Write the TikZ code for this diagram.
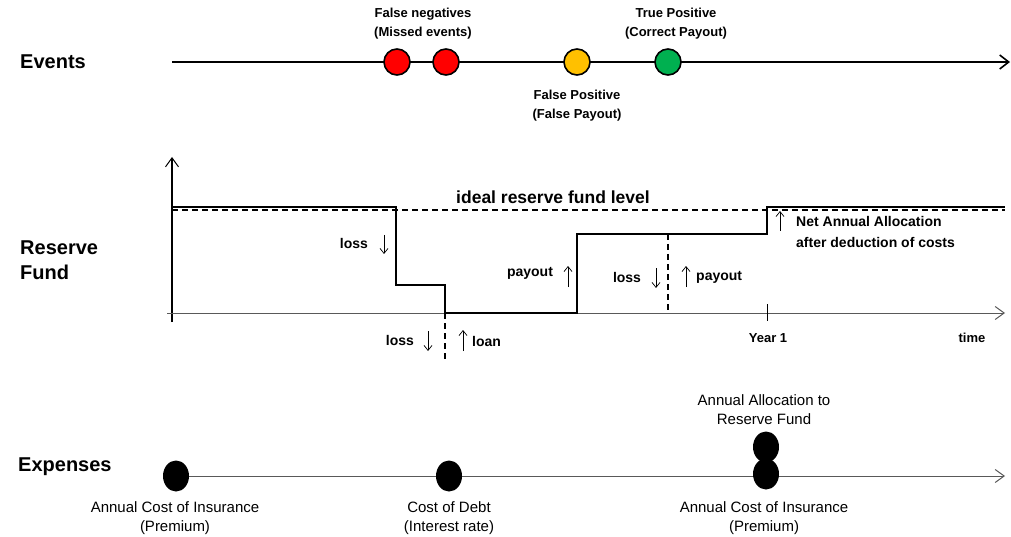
\documentclass[tikz,border=0pt]{standalone}
\usepackage{fontspec}
\setmainfont{Liberation Sans}
\usetikzlibrary{arrows.meta,shapes.geometric}
\begin{document}
\begin{tikzpicture}[x=1pt,y=-1pt,
  big/.style={font=\fontsize{20}{25}\selectfont\bfseries, anchor=west, inner sep=0, align=left},
  evl/.style={font=\fontsize{13}{19}\selectfont\bfseries, align=center, inner sep=0},
  rfl/.style={font=\fontsize{14}{21}\selectfont\bfseries, inner sep=0},
  exl/.style={font=\fontsize{15}{19}\selectfont, align=center, inner sep=0},
  evdot/.style={circle, draw=black, line width=1.6pt, minimum size=26pt, inner sep=0},
  exdot/.style={ellipse, fill=black, minimum width=26pt, minimum height=31pt, inner sep=0},
  mainline/.style={line width=1.6pt, black},
  grayaxis/.style={line width=1pt, gray!70!black},
  tipbig/.style={-{Straight Barb[length=9pt,width=14pt,line width=1.6pt]}},
  tipthin/.style={-{Straight Barb[length=9pt,width=13pt,line width=1pt]}},
  smallarr/.style={line width=0.7pt, -{Straight Barb[length=5pt,width=8pt,line width=0.7pt]}},
  stepline/.style={line width=2pt, black},
  dashline/.style={line width=2pt, black, dash pattern=on 6pt off 4pt}
]
\useasboundingbox (0,0) rectangle (1011,537);

% ---------- Events ----------
\node[big] (events) at (20,62) {Events};
\coordinate (e0) at (172,62);
\coordinate (e1) at (1010,62);
\draw[mainline, tipbig] (e0) -- (e1);
\node[evdot, fill={rgb,255:red,255;green,0;blue,0}] (fn1) at (397,62) {};
\node[evdot, fill={rgb,255:red,255;green,0;blue,0}] (fn2) at (446,62) {};
\node[evdot, fill={rgb,255:red,255;green,192;blue,0}] (fp) at (577,62) {};
\node[evdot, fill={rgb,255:red,0;green,176;blue,80}] (tp) at (668,62) {};
\node[evl] (fnl) at (423,24) {False negatives\\(Missed events)};
\node[evl] (tpl) at (676,24) {True Positive\\(Correct Payout)};
\node[evl] (fpl) at (577,106) {False Positive\\(False Payout)};

% ---------- Reserve fund ----------
\node[big] (reserve) at (20,260) {Reserve\\Fund};
\coordinate (ya0) at (172,322);
\coordinate (ya1) at (172,157);
\draw[line width=1.2pt, black, tipthin] (ya0) -- (ya1);
\coordinate (xa0) at (167,313);
\coordinate (xa1) at (1005,313);
\draw[grayaxis, tipthin] (xa0) -- (xa1);

\coordinate (i0) at (172,210);
\coordinate (i1) at (1005,210);
\draw[dashline] (i0) -- (i1);
\node[font=\fontsize{17.5}{21}\selectfont\bfseries, inner sep=0] (ideal) at (553,197) {ideal reserve fund level};

\coordinate (s0) at (172,207);
\coordinate (s1) at (396,207);
\coordinate (s2) at (396,285);
\coordinate (s3) at (445,285);
\coordinate (s4) at (445,313);
\coordinate (s5) at (577,313);
\coordinate (s6) at (577,234);
\coordinate (s7) at (767,234);
\coordinate (s8) at (767,207);
\coordinate (s9) at (1005,207);
\draw[stepline] (s0) -- (s1) -- (s2) -- (s3) -- (s4) -- (s5) -- (s6) -- (s7) -- (s8) -- (s9);

\coordinate (d1a) at (445,313);
\coordinate (d1b) at (445,361);
\draw[dashline] (d1a) -- (d1b);
\coordinate (d2a) at (668,234);
\coordinate (d2b) at (668,312);
\draw[dashline] (d2a) -- (d2b);

\coordinate (tk0) at (767,304);
\coordinate (tk1) at (767,321);
\draw[line width=1pt] (tk0) -- (tk1);
\node[rfl, font=\fontsize{13}{16}\selectfont\bfseries] (year) at (768,338) {Year 1};
\node[rfl, font=\fontsize{13}{16}\selectfont\bfseries] (time) at (972,338) {time};

% loss 1
\node[rfl] (loss1) at (354,243) {loss};
\coordinate (a1s) at (384,235); \coordinate (a1e) at (384,254);
\draw[smallarr] (a1s) -- (a1e);
% payout 1
\node[rfl] (pay1) at (530,273) {payout};
\coordinate (a2s) at (568,287); \coordinate (a2e) at (568,266);
\draw[smallarr] (a2s) -- (a2e);
% loss 2 / payout 2
\node[rfl] (loss2) at (627,277) {loss};
\coordinate (a3s) at (656,268); \coordinate (a3e) at (656,288);
\draw[smallarr] (a3s) -- (a3e);
\coordinate (a4s) at (686,287); \coordinate (a4e) at (686,266);
\draw[smallarr] (a4s) -- (a4e);
\node[rfl, anchor=west] (pay2) at (696,277) {payout};
% loss 3 / loan
\node[rfl] (loss3) at (400,340) {loss};
\coordinate (a5s) at (428,331); \coordinate (a5e) at (428,351);
\draw[smallarr] (a5s) -- (a5e);
\coordinate (a6s) at (463,351); \coordinate (a6e) at (463,330);
\draw[smallarr] (a6s) -- (a6e);
\node[rfl, anchor=west] (loan) at (472,341) {loan};
% net annual allocation
\coordinate (a7s) at (780,231); \coordinate (a7e) at (780,211);
\draw[smallarr] (a7s) -- (a7e);
\node[rfl, anchor=west] (net1) at (796,221) {Net Annual Allocation};
\node[rfl, anchor=west] (net2) at (796,242) {after deduction of costs};

% ---------- Expenses ----------
\node[big] (expenses) at (18,467) {Expenses};
\coordinate (x0) at (172,476);
\coordinate (x1) at (1005,476);
\draw[grayaxis, tipthin] (x0) -- (x1);
\node[exdot] (c1) at (176,476) {};
\node[exdot] (c2) at (449,476) {};
\node[exdot] (c3) at (766,474) {};
\node[exdot] (c4) at (766,447) {};
\node[exl] (c1l) at (175,518) {Annual Cost of Insurance\\(Premium)};
\node[exl] (c2l) at (449,518) {Cost of Debt\\(Interest rate)};
\node[exl] (c3l) at (764,518) {Annual Cost of Insurance\\(Premium)};
\node[exl] (c4l) at (764,410) {Annual Allocation to\\Reserve Fund};
\end{tikzpicture}
\end{document}
